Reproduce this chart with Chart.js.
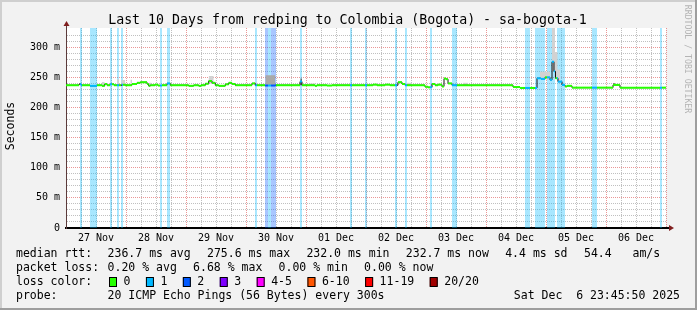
<!DOCTYPE html>
<html>
<head>
<meta charset="utf-8">
<title>Last 10 Days from redping to Colombia (Bogota)</title>
<script src="https://cdn.jsdelivr.net/npm/chart.js@4.4.1/dist/chart.umd.min.js"></script>
<style>
  html, body { margin: 0; padding: 0; background: #f2f2f2; }
  canvas { display: block; }
</style>
</head>
<body>
<canvas id="smokeChart" width="697" height="310"></canvas>
<script>
// x values are days since 27 Nov 00:00, y values are milliseconds
const dayLabels = ["27 Nov", "28 Nov", "29 Nov", "30 Nov", "01 Dec", "02 Dec", "03 Dec", "04 Dec", "05 Dec", "06 Dec"];
const yTickValues = [0, 50, 100, 150, 200, 250, 300];
const yTickLabels = ["0", "50 m", "100 m", "150 m", "200 m", "250 m", "300 m"];

// median rtt, stepped: value holds from medianTime[i] to medianTime[i+1]
const medianTime = [0.000, 0.217, 0.250, 0.400, 0.517, 0.600, 0.645, 0.683, 0.733, 0.800,
  0.933, 0.983, 1.100, 1.183, 1.238, 1.350, 1.378, 1.405, 1.483, 1.533,
  1.600, 1.683, 1.738, 2.045, 2.128, 2.212, 2.250, 2.322, 2.378, 2.433,
  2.488, 2.545, 2.655, 2.712, 2.767, 2.822, 3.100, 3.155, 3.317, 3.488,
  3.900, 3.933, 4.150, 4.183, 4.350, 4.433, 5.117, 5.183, 5.317, 5.400,
  5.533, 5.600, 5.650, 5.983, 6.033, 6.100, 6.150, 6.200, 6.267, 6.300,
  6.333, 6.367, 6.433, 7.450, 7.567, 7.850, 7.917, 7.983, 8.067, 8.100,
  8.133, 8.158, 8.200, 8.267, 8.317, 8.350, 8.433, 9.117, 9.233, 10.000];
const medianRtt = [237, 239, 237, 236, 237, 236, 239, 237, 238.5, 237,
  238, 237, 239, 241, 242, 239, 236, 237, 238, 236.5,
  237, 240, 237, 236, 237, 236, 237, 239.5, 244, 241,
  237, 236, 238.5, 241, 239, 237, 240, 237, 236.5, 237,
  243, 237, 236, 237, 236.5, 237, 238, 237, 238, 237,
  242, 239, 237, 234.5, 233.5, 239, 237, 238, 235, 248,
  247, 240, 237, 234, 232.5, 248.5, 247.5, 250, 246, 276,
  260, 248.5, 243, 237.5, 235, 236, 233, 237.5, 233, 233];

// loss periods (number of lost pings out of 20)
const lossStart = [0.233, 0.400, 0.733, 0.850, 0.917, 1.567, 1.683, 3.150, 3.317, 3.367, 3.417, 3.900,
  4.733, 4.983, 5.483, 5.650, 6.067, 6.433, 7.650, 7.817, 8.017, 8.183, 8.767, 9.900];
const lossEnd = [0.267, 0.517, 0.767, 0.883, 0.950, 1.600, 1.733, 3.183, 3.367, 3.417, 3.500, 3.933,
  4.767, 5.017, 5.517, 5.683, 6.100, 6.517, 7.733, 7.983, 8.150, 8.317, 8.850, 9.933];
const lossCount = [1, 1, 1, 1, 1, 1, 1, 1, 2, 1, 2, 1,
  1, 1, 1, 1, 1, 1, 1, 1, 1, 1, 1, 1];

// smoke (spread of the 20 pings) around the median
const smokeStart = [0.600, 0.850, 0.922, 1.072, 1.388, 2.378, 2.378, 2.733, 3.128, 3.322, 3.350, 3.905,
  4.067, 5.683, 6.617, 7.900, 7.917, 8.100, 8.100, 8.145, 8.183, 9.117];
const smokeEnd = [0.645, 0.888, 0.988, 1.100, 1.422, 2.462, 2.433, 2.778, 3.172, 3.488, 3.450, 3.933,
  4.150, 5.767, 6.700, 8.067, 8.067, 8.150, 8.145, 8.195, 8.233, 9.150];
const smokeLow = [237, 237, 237, 237, 237, 240, 242, 239, 237, 237, 237, 237,
  237, 237, 237, 247, 247, 260, 276, 248, 243, 237];
const smokeHigh = [242.5, 247, 245.5, 246, 241, 252.4, 248, 240.5, 242, 253.6, 249, 248,
  240, 241, 241, 259.6, 254, 332, 302, 292, 263, 240.3];
const smokeShade = [0, 0, 0, 0, 0, 0, 1, 0, 0, 1, 2, 2,
  0, 0, 0, 0, 1, 0, 2, 0, 0, 2];

const lossColors = ["#26ff00", "#00b8ff", "#0059ff", "#7e00ff", "#ff00ff", "#ff5500", "#ff0000", "#a10000"];
const lossNames = ["0", "1", "2", "3", "4-5", "6-10", "11-19", "20/20"];
const rttStats = ["236.7 ms avg", "275.6 ms max", "232.0 ms min", "232.7 ms now", "4.4 ms sd", "54.4   am/s"];
const lossStats = ["0.20 % avg", "6.68 % max", "0.00 % min", "0.00 % now"];

const Y_MAX = 332;
const DAYS = 10;
const FONT = '"DejaVu Sans Mono", monospace';
const barColors = { 1: "rgba(0,184,255,0.34)", 2: "rgba(0,89,255,0.34)" };
const smokeColors = ["#d2d2d2", "#a9a9a9", "#6c6c6c"];

function lossAt(t) {
  for (let i = 0; i < lossStart.length; i++) {
    if (t >= lossStart[i] && t < lossEnd[i]) return lossCount[i];
  }
  return 0;
}

const datasets = [];

// loss bars
lossStart.forEach((s, i) => {
  datasets.push({
    data: [{ x: s, y: Y_MAX }, { x: lossEnd[i], y: Y_MAX }],
    borderWidth: 0, pointRadius: 0, fill: "origin",
    backgroundColor: barColors[lossCount[i]], order: 3
  });
});

// smoke
smokeStart.forEach((s, i) => {
  datasets.push({
    data: [{ x: s, y: smokeHigh[i] }, { x: smokeEnd[i], y: smokeHigh[i] }],
    borderWidth: 0, pointRadius: 0, fill: { value: smokeLow[i] },
    backgroundColor: smokeColors[smokeShade[i]], order: 2
  });
});

// thin dark stepped median (shows the jumps)
datasets.push({
  data: medianTime.map((t, i) => ({ x: t, y: medianRtt[i] })),
  stepped: true, borderColor: "#111", borderWidth: 1, pointRadius: 0, fill: false, order: 1
});

// coloured median, horizontal pieces split at loss boundaries
const medPts = [];
for (let i = 0; i < medianTime.length - 1; i++) {
  const t0 = medianTime[i], t1 = medianTime[i + 1], v = medianRtt[i];
  const cuts = [t0];
  lossStart.concat(lossEnd).filter(b => b > t0 && b < t1).sort((a, b) => a - b).forEach(b => cuts.push(b));
  cuts.push(t1);
  cuts.forEach(c => medPts.push({ x: c, y: v }));
  medPts.push({ x: t1, y: null });
}
datasets.push({
  data: medPts,
  borderColor: lossColors[0], borderWidth: 2, pointRadius: 0, fill: false, spanGaps: false, order: 0,
  segment: {
    borderColor: ctx => lossColors[lossAt((ctx.p0.parsed.x + ctx.p1.parsed.x) / 2)]
  }
});

const decor = {
  id: "decor",
  beforeDraw(chart) {
    const { ctx, chartArea: a } = chart;
    ctx.save();
    ctx.fillStyle = "#f2f2f2";
    ctx.fillRect(0, 0, 697, 310);
    ctx.fillStyle = "#cfcfcf";
    ctx.fillRect(0, 0, 697, 2);
    ctx.fillRect(0, 0, 2, 310);
    ctx.fillStyle = "#9e9e9e";
    ctx.fillRect(0, 308, 697, 2);
    ctx.fillRect(695, 0, 2, 310);
    ctx.fillStyle = "#fff";
    ctx.fillRect(a.left, a.top, a.right - a.left, a.bottom - a.top);
    ctx.restore();
  },
  afterDraw(chart) {
    const { ctx, chartArea: a } = chart;
    ctx.save();
    // axis extensions and arrows
    ctx.strokeStyle = "#000";
    ctx.lineWidth = 2;
    ctx.beginPath(); ctx.moveTo(a.right, a.bottom); ctx.lineTo(a.right + 4, a.bottom); ctx.stroke();
    ctx.strokeStyle = "#5c3b3b";
    ctx.lineWidth = 1;
    ctx.beginPath(); ctx.moveTo(a.left + 0.5, a.top); ctx.lineTo(a.left + 0.5, a.top - 3); ctx.stroke();
    ctx.fillStyle = "#801f1f";
    ctx.beginPath(); ctx.moveTo(a.right + 8, a.bottom); ctx.lineTo(a.right + 3, a.bottom - 3); ctx.lineTo(a.right + 3, a.bottom + 3); ctx.closePath(); ctx.fill();
    ctx.beginPath(); ctx.moveTo(a.left + 0.5, a.top - 7); ctx.lineTo(a.left - 2.5, a.top - 2); ctx.lineTo(a.left + 3.5, a.top - 2); ctx.closePath(); ctx.fill();

    ctx.fillStyle = "#000";
    ctx.textBaseline = "alphabetic";
    ctx.textAlign = "center";
    ctx.font = "13.25px " + FONT;
    ctx.fillText("Last 10 Days from redping to Colombia (Bogota) - sa-bogota-1", 347.5, 24);

    ctx.save();
    ctx.translate(11, 126);
    ctx.rotate(-Math.PI / 2);
    ctx.textBaseline = "middle";
    ctx.font = "11.5px " + FONT;
    ctx.fillText("Seconds", 0, 0);
    ctx.restore();

    ctx.save();
    ctx.translate(687.5, 59);
    ctx.rotate(Math.PI / 2);
    ctx.textBaseline = "middle";
    ctx.fillStyle = "#b4b4b4";
    ctx.font = "8.2px " + FONT;
    ctx.fillText("RRDTOOL / TOBI OETIKER", 0, 0);
    ctx.restore();

    // legend block
    ctx.textAlign = "left";
    ctx.textBaseline = "middle";
    ctx.font = "11.5px " + FONT;
    ctx.fillStyle = "#000";
    ctx.fillText("median rtt:", 16, 254);
    [107.6, 207, 306.4, 405.8, 505.2, 584].forEach((x, i) => ctx.fillText(rttStats[i], x, 254));
    ctx.fillText("packet loss:", 16, 268);
    [107.6, 193.1, 278.6, 364.1].forEach((x, i) => ctx.fillText(lossStats[i], x, 268));
    ctx.fillText("loss color:", 16, 282);
    let bx = 109;
    lossNames.forEach((n, i) => {
      ctx.fillStyle = lossColors[i];
      ctx.fillRect(bx, 277.5, 8, 9);
      ctx.strokeStyle = "#000";
      ctx.lineWidth = 1;
      ctx.strokeRect(bx + 0.5, 277.5, 7, 9);
      ctx.fillStyle = "#000";
      ctx.fillText(n, bx + 14.5, 282);
      bx += 30 + n.length * 6.92;
    });
    ctx.fillText("probe:", 16, 296);
    ctx.fillText("20 ICMP Echo Pings (56 Bytes) every 300s", 107.6, 296);
    ctx.textAlign = "right";
    ctx.fillText("Sat Dec  6 23:45:50 2025", 680, 296);
    ctx.restore();
  }
};

const majorGrid = "rgba(222,80,80,0.6)";
const minorGrid = "rgba(140,140,140,0.55)";

new Chart(document.getElementById("smokeChart").getContext("2d"), {
  type: "line",
  data: { datasets },
  options: {
    responsive: false,
    animation: false,
    events: [],
    layout: { padding: { left: 0, right: 31, top: 28, bottom: 62 } },
    plugins: { legend: { display: false }, tooltip: { enabled: false }, title: { display: false } },
    scales: {
      x: {
        type: "linear", min: 0, max: DAYS,
        afterFit: s => { s.height = 20; },
        ticks: {
          stepSize: 0.25, autoSkip: false, maxRotation: 0, padding: 4,
          color: "#000", font: { family: FONT, size: 10 },
          callback: v => {
            const k = Math.floor(v);
            return Math.abs(v - k - 0.5) < 1e-6 ? dayLabels[k] : "";
          }
        },
        grid: {
          drawTicks: false, lineWidth: 1,
          color: c => {
            const v = c.tick.value;
            return Math.abs(v - Math.round(v)) < 1e-6 ? majorGrid : minorGrid;
          }
        },
        border: { display: true, color: "#000", width: 2, dash: [1, 1] }
      },
      y: {
        type: "linear", min: 0, max: Y_MAX,
        afterFit: s => { s.width = 66; },
        ticks: {
          stepSize: 10, autoSkip: false, padding: 6,
          color: "#000", font: { family: FONT, size: 10 },
          callback: v => {
            const k = yTickValues.indexOf(v);
            return k >= 0 ? yTickLabels[k] : "";
          }
        },
        grid: {
          drawTicks: false, lineWidth: 1,
          color: c => {
            const v = c.tick.value;
            if (v % 10 !== 0) return "rgba(0,0,0,0)";
            return v % 50 === 0 ? majorGrid : minorGrid;
          }
        },
        border: { display: true, color: "#5c3b3b", width: 1, dash: [1, 1] }
      }
    }
  },
  plugins: [decor]
});
</script>
</body>
</html>
